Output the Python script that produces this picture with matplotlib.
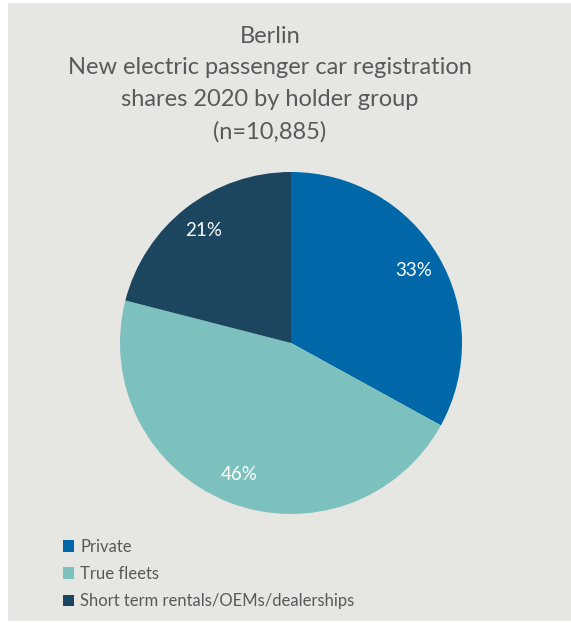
import matplotlib.pyplot as plt
from matplotlib.patches import Rectangle, Patch

groups = ['Private', 'True fleets', 'Short term rentals/OEMs/dealerships']
shares = [33, 46, 21]
colors = ['#0068a9', '#7cc1bd', '#1c4660']

title = 'Berlin\nNew electric passenger car registration\nshares 2020 by holder group\n(n=10,885)'

plt.rcParams['font.family'] = ['Lato', 'DejaVu Sans']
txt_col = '#595959'
bg = '#e6e6e2'

fig = plt.figure(figsize=(5.71, 6.23), dpi=100)
fig.patch.set_facecolor('white')
# grey panel with thin white margin
fig.patches.append(Rectangle((8/571, 2/623), 1 - 8/571, 1 - 5/623,
                             transform=fig.transFigure, facecolor=bg,
                             edgecolor='none', zorder=-1))

fig.text(270/571, 1 - 84/623, title, ha='center', va='center',
         fontsize=17, color=txt_col, linespacing=1.62)

ax = fig.add_axes([120/571, 109/623, 342/571, 342/623])
ax.pie(shares, colors=colors, startangle=90, counterclock=False,
       autopct='%d%%', pctdistance=0.83,
       textprops=dict(color='white', fontsize=13.5))
ax.set_xlim(-1, 1)
ax.set_ylim(-1, 1)
ax.axis('off')

handles = [Patch(facecolor=c, edgecolor='none') for c in colors]
leg = fig.legend(handles, groups, loc='upper left',
                 bbox_to_anchor=(56/571, 1 - 532/623), frameon=False,
                 fontsize=12, handlelength=0.7, handleheight=0.7,
                 handletextpad=0.35, labelspacing=0.68, borderaxespad=0)
for t in leg.get_texts():
    t.set_color(txt_col)

fig.savefig('out.png', dpi=100)
